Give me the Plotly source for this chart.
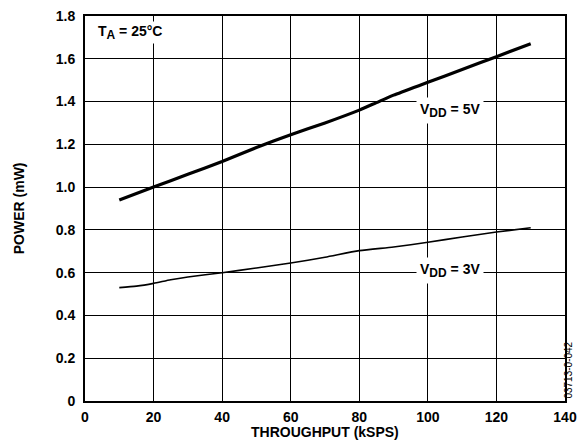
import plotly.graph_objects as go

# throughput (kSPS)
x_5v = [10, 20, 30, 40, 50, 60, 70, 80, 85, 90, 100, 110, 120, 130]
p_5v = [0.94, 1.00, 1.06, 1.12, 1.185, 1.245, 1.30, 1.36, 1.395, 1.43, 1.49, 1.55, 1.61, 1.67]

x_3v = [10, 15, 20, 25, 30, 40, 50, 60, 70, 80, 90, 100, 110, 120, 130]
p_3v = [0.53, 0.537, 0.55, 0.567, 0.58, 0.60, 0.622, 0.645, 0.672, 0.703, 0.72, 0.742, 0.767, 0.79, 0.81]

x_ticks = [0, 20, 40, 60, 80, 100, 120, 140]
y_ticks = [0, 0.2, 0.4, 0.6, 0.8, 1.0, 1.2, 1.4, 1.6, 1.8]
y_tick_text = ["0", "0.2", "0.4", "0.6", "0.8", "1.0", "1.2", "1.4", "1.6", "1.8"]

font_fam = "Arial, Liberation Sans, sans-serif"

fig = go.Figure()
fig.add_trace(go.Scatter(x=x_5v, y=p_5v, mode="lines",
                         line=dict(color="black", width=3.2, shape="spline", smoothing=0.6)))
fig.add_trace(go.Scatter(x=x_3v, y=p_3v, mode="lines",
                         line=dict(color="black", width=1.6, shape="spline", smoothing=0.6)))

fig.update_layout(
    width=581, height=443,
    margin=dict(l=85, r=16, t=16, b=42, autoexpand=False),
    plot_bgcolor="white", paper_bgcolor="white",
    showlegend=False,
    font=dict(family=font_fam, size=13, color="black"),
)
fig.update_xaxes(range=[0, 140], tickvals=x_ticks, showgrid=True, gridcolor="black", gridwidth=1,
                 showline=True, linecolor="black", linewidth=2, mirror=True, zeroline=False,
                 ticks="", ticklabelstandoff=2, automargin=False,
                 tickfont=dict(family=font_fam, size=14, weight="bold"))
fig.update_yaxes(range=[0, 1.8], tickvals=y_ticks, ticktext=y_tick_text, showgrid=True,
                 gridcolor="black", gridwidth=1,
                 showline=True, linecolor="black", linewidth=2, mirror=True, zeroline=False,
                 ticks="", ticklabelstandoff=5, automargin=False,
                 tickfont=dict(family=font_fam, size=14, weight="bold"))

bold = dict(family=font_fam, size=14, color="black", weight="bold")
sub = '<sub><span style="font-size:12px">{}</span></sub>'
fig.add_annotation(x=0.022, y=0.958, xref="paper", yref="paper", xanchor="left", yanchor="middle",
                   text="T" + sub.format("A") + " = 25°C", showarrow=False, bgcolor="white", font=bold)
fig.add_annotation(x=106.4, y=1.36, text="V" + sub.format("DD") + " = 5V", showarrow=False,
                   bgcolor="white", borderpad=3, font=bold)
fig.add_annotation(x=106.6, y=0.61, text="V" + sub.format("DD") + " = 3V", showarrow=False,
                   bgcolor="white", borderpad=3, font=bold)

fig.add_annotation(x=0.5, y=-0.081, xref="paper", yref="paper", yanchor="middle",
                   text="THROUGHPUT (kSPS)", showarrow=False, font=bold)
fig.add_annotation(x=-0.138, y=0.5, xref="paper", yref="paper", xanchor="center",
                   text="POWER (mW)", textangle=-90, showarrow=False, font=bold)
fig.add_annotation(x=1.022, y=0.0, xref="paper", yref="paper", yanchor="bottom",
                   text="03713-0-042", textangle=-90, showarrow=False,
                   font=dict(family=font_fam, size=10, color="black"))

# drop the browser's default page margin so the figure sits at 0,0
fig.write_html("out.html", config={"displayModeBar": False},
               post_script="document.body.style.margin='0';")
